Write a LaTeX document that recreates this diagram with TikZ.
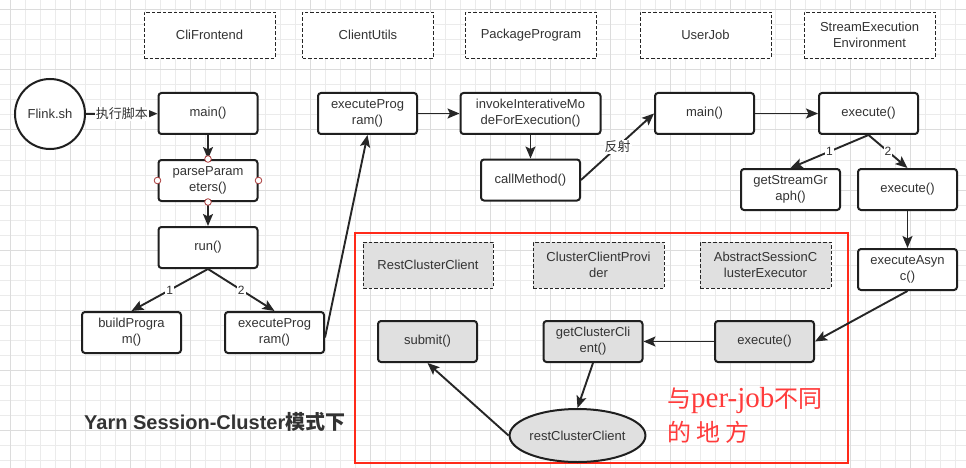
\documentclass[tikz,border=0pt]{standalone}
\usepackage{fontspec}
\setmainfont{Liberation Sans}
\newfontfamily\cjk{Noto Sans CJK SC}
\newfontfamily\redserif{Liberation Serif}
\usetikzlibrary{arrows.meta,shapes.geometric,calc,positioning}
\definecolor{gridminor}{HTML}{EBEBEB}
\definecolor{gridmajor}{HTML}{DCDCDC}
\definecolor{inkgray}{HTML}{333333}
\definecolor{cellgray}{HTML}{E0E0E0}
\definecolor{framered}{HTML}{FF2A1A}
\definecolor{notered}{HTML}{FF3B3B}
\definecolor{handlered}{HTML}{A83A3A}

\begin{document}
\begin{tikzpicture}[x=1pt,y=-1pt,
  every node/.style={text=inkgray,font=\fontsize{13}{16}\selectfont},
  box/.style={draw=black!88,line width=2pt,rounded corners=3pt,fill=white,
    minimum width=99pt,minimum height=41pt,align=center,inner sep=1pt},
  graybox/.style={box,fill=cellgray},
  classbox/.style={draw=black!85,dashed,dash pattern=on 3.5pt off 2pt,line width=0.9pt,
    fill=white,minimum width=131pt,minimum height=46pt,align=center,inner sep=1pt},
  grayclass/.style={classbox,fill=cellgray},
  link/.style={draw=black!85,line width=1.9pt,-{Stealth[length=12pt,width=10pt,inset=2.5pt]}},
  edgelabel/.style={fill=white,inner sep=1pt,font=\fontsize{12}{14}\selectfont},
  handle/.style={draw=handlered,fill=white,line width=0.8pt}]
\useasboundingbox (0,0) rectangle (966,468);
\fill[white] (0,0) rectangle (966,468);
\foreach \x in {10,25,...,965} \draw[gridminor,line width=1pt] (\x,0)--(\x,468);
\foreach \y in {10,25,...,467} \draw[gridminor,line width=1pt] (0,\y)--(966,\y);
\foreach \x in {10,70,...,965} \draw[gridmajor,line width=1pt] (\x,0)--(\x,468);
\foreach \y in {10,70,...,467} \draw[gridmajor,line width=1pt] (0,\y)--(966,\y);

\draw (209.5,35) node (cliHead) [classbox] {CliFrontend};
\draw (368,35) node (utilsHead) [classbox] {ClientUtils};
\draw (531,35) node (pkgHead) [classbox] {PackageProgram};
\draw (705.5,35) node (jobHead) [classbox] {UserJob};
\draw (869.5,35) node (envHead) [classbox] {StreamExecution\\Environment};

\draw (50,114) node (flink) [circle,draw=black!88,line width=2pt,fill=white,minimum size=70pt,inner sep=0pt] {Flink.sh};
\draw (208,113.5) node (cliMain) [box] {main()};
\draw (208,180.5) node (parseParams) [box] {parseParam\\eters()};
\draw (208,247.5) node (run) [box] {run()};
\draw (131.5,332.5) node (buildProgram) [box] {buildProgra\\m()};
\draw (274.5,332.5) node (execProgLow) [box] {executeProg\\ram()};
\draw (367.5,113.5) node (execProgUp) [box] {executeProg\\ram()};
\draw (530.5,113.5) node (invoke) [box,minimum width=140pt] {invokeInterativeMo\\deForExecution()};
\draw (530.5,180) node (callMethod) [box] {callMethod()};
\draw (704.5,113.5) node (jobMain) [box] {main()};
\draw (868.5,113.5) node (envExec) [box] {execute()};
\draw (790.5,189.5) node (streamGraph) [box] {getStreamGr\\aph()};
\draw (907.5,189.5) node (envExecInner) [box] {execute()};
\draw (907.5,269.5) node (execAsync) [box] {executeAsyn\\c()};

\draw[framered,line width=2.5pt] (355,233) rectangle (848,463);
\draw (428,265) node (restHead) [grayclass,minimum width=130pt] {RestClusterClient};
\draw (598.5,265) node (providerHead) [grayclass] {ClusterClientProvi\\der};
\draw (765.5,265) node (sessionHead) [grayclass] {AbstractSessionC\\lusterExecutor};
\draw (764.5,341.5) node (sessionExec) [graybox] {execute()};
\draw (593,341.5) node (getClient) [graybox] {getClusterCli\\ent()};
\draw (427.5,341.5) node (submit) [graybox] {submit()};
\draw (577.5,435.5) node (restClient) [ellipse,draw=black!88,line width=2pt,fill=cellgray,minimum width=131pt,minimum height=53pt,inner sep=0pt] {restClusterClient};

\draw[link] (flink)--(cliMain) node[midway,edgelabel,font=\cjk\fontsize{13}{16}\selectfont] {执行脚本};
\draw[link] (cliMain)--(parseParams);
\draw[link] (parseParams)--(run);
\draw[link] (run.south)--(buildProgram.north) node[midway,edgelabel] {1};
\draw[link] (run.south)--(execProgLow.north) node[midway,edgelabel] {2};
\draw[link] ([yshift=-5pt]execProgLow.east)--(execProgUp.south);
\draw[link] (execProgUp)--(invoke);
\draw[link] (invoke)--(callMethod);
\draw[link] (callMethod.east)--(jobMain.west) node[midway,edgelabel,font=\cjk\fontsize{13}{16}\selectfont] {反射};
\draw[link] (jobMain)--(envExec);
\draw[link] (envExec.south)--(streamGraph.north) node[midway,edgelabel] {1};
\draw[link] (envExec.south)--(envExecInner.north) node[midway,edgelabel] {2};
\draw[link] (envExecInner)--(execAsync);
\draw[link] (execAsync.south)--(sessionExec.east);
\draw[link] (sessionExec)--(getClient);
\draw[link] (getClient.south)--(restClient.north);
\draw[link] (restClient.west)--(submit.south);

\foreach \a in {north,south,east,west} \draw[handle] (parseParams.\a) circle (3.3pt);

\draw (84,422) node (modeTitle) [anchor=west,inner sep=0pt,font=\fontsize{20}{24}\selectfont\bfseries] {Yarn Session-Cluster{\cjk 模式下}};
\draw (667,401) node (diffNote) [anchor=west,text=notered,font=\fontsize{24}{30}\selectfont,inner sep=0pt] {{\cjk 与}{\redserif\fontsize{29}{30}\selectfont per-job}{\cjk 不同}};
\draw (667,432) node (diffNoteTail) [anchor=west,text=notered,font=\fontsize{24}{30}\selectfont\cjk,inner sep=0pt] {的\hspace{5pt}地\hspace{5pt}方};
\end{tikzpicture}
\end{document}
